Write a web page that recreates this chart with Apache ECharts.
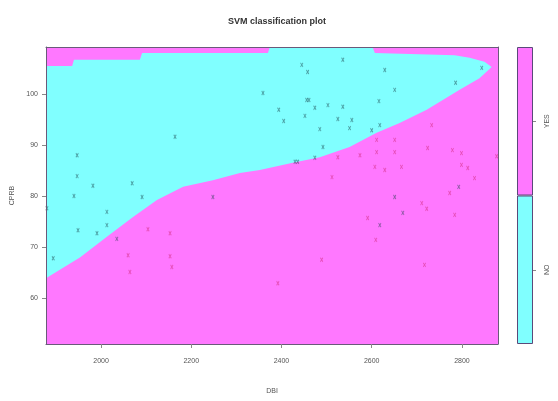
<!DOCTYPE html>
<html><head><meta charset="utf-8">
<script src="https://cdn.jsdelivr.net/npm/echarts@6/dist/echarts.min.js"></script>
<style>html,body{margin:0;padding:0;background:#fff}#c{width:558px;height:401px}</style>
</head><body><div id="c"></div>
<script>
// ---- data ----
const title = 'SVM classification plot';
const xName = 'DBI';
const yName = 'CPRB';
const xTicks = [2000, 2200, 2400, 2600, 2800];
const yTicks = [60, 70, 80, 90, 100];
const xRange = [1878, 2880];
const yRange = [51, 109.2];
const classNames = ['NO', 'YES'];
// outline of the "NO" (cyan) decision region, x values and y values
const regionX = [1878,1936,1940,2086,2091,2370,2374,2602,2607,2784,2817,2850,2866,2839,2795,2722,2662,2611,2551,2485,2425,2352,2308,2248,2182,2124,2071,2013,1954,1878];
const regionY = [105.5,105.5,106.7,106.7,108.0,108.0,109.2,109.2,108.0,107.6,107.1,106.3,105.3,103.1,100.8,96.9,94.3,92.4,89.6,87.6,86.5,85.1,84.5,83.1,81.8,79.2,75.9,72.0,68.0,63.9];
// observations of class NO (black)
const noX = [2359,2394,2164,1947,1947,1982,2069,1940,2091,1880,2013,2013,1949,1991,2035,1894,2445,2458,2536,2629,2651,2844,2786,2456,2461,2474,2503,2536,2616,2405,2452,2525,2556,2551,2485,2600,2618,2492,2430,2436,2474,2651,2669,2618,2793,2248];
const noY = [100.2,96.9,91.6,88.0,83.9,82.0,82.5,80.0,79.8,77.6,76.9,74.3,73.3,72.7,71.6,67.8,105.7,104.3,106.7,104.7,100.8,105.1,102.2,98.8,98.8,97.3,97.8,97.5,98.6,94.7,95.7,95.1,94.9,93.3,93.1,92.9,93.9,89.6,86.7,86.7,87.5,79.8,76.7,74.3,81.8,79.8];
// observations of class YES (red)
const yesX = [2525,2574,2611,2651,2611,2651,2733,2724,2779,2799,2607,2629,2666,2799,2813,2828,2773,2512,2104,2153,2060,2153,2157,2064,2392,2711,2722,2784,2591,2609,2489,2717,2877];
const yesY = [87.6,88.0,91.0,91.0,88.6,88.6,93.9,89.4,89.0,88.4,85.7,85.1,85.7,86.1,85.5,83.5,80.6,83.7,73.5,72.7,68.4,68.2,66.1,65.1,62.9,78.6,77.5,76.3,75.7,71.4,67.5,66.5,87.8];

const CYAN = '#80FFFF', MAGENTA = '#FF78FF';
const textCol = '#555';
const crossPath = 'path://M0,0L4,6M4,0L0,6';

const chart = echarts.init(document.getElementById('c'), null, {renderer: 'canvas'});
const zip = (a, b) => a.map((v, i) => [v, b[i]]);
const plain = v => String(v);

chart.setOption({
  animation: false,
  backgroundColor: '#fff',
  title: {text: title, left: 272, top: 12, textAlign: 'center',
    textStyle: {fontSize: 9, fontWeight: 'bold', color: '#333', fontFamily: 'Liberation Sans'}},
  grid: [
    {left: 46, top: 47, width: 452, height: 297, show: true, backgroundColor: MAGENTA, borderWidth: 0},
    {left: 517, top: 47, width: 16, height: 297, show: false}
  ],
  xAxis: [
    {gridIndex: 0, type: 'value', min: xRange[0], max: xRange[1], z: 5,
      name: xName, nameLocation: 'middle', nameGap: 44,
      nameTextStyle: {fontSize: 7, color: textCol, fontFamily: 'Liberation Sans'},
      splitLine: {show: false},
      axisLine: {show: true, lineStyle: {color: '#6a5a7a', width: 1}},
      axisTick: {show: true, length: 4, customValues: xTicks, lineStyle: {color: '#888'}},
      axisLabel: {margin: 14, fontSize: 7, color: textCol, fontFamily: 'Liberation Sans', customValues: xTicks, formatter: plain}},
    {gridIndex: 0, type: 'value', position: 'top', min: xRange[0], max: xRange[1], z: 5,
      splitLine: {show: false}, axisTick: {show: false}, axisLabel: {show: false},
      axisLine: {show: true, lineStyle: {color: '#6a5a7a', width: 1}}},
    {gridIndex: 1, type: 'category', data: ['k'], show: false}
  ],
  yAxis: [
    {gridIndex: 0, type: 'value', min: yRange[0], max: yRange[1], z: 5,
      name: yName, nameLocation: 'middle', nameGap: 28, nameRotate: 90,
      nameTextStyle: {fontSize: 7, color: textCol, fontFamily: 'Liberation Sans'},
      splitLine: {show: false},
      axisLine: {show: true, lineStyle: {color: '#6a5a7a', width: 1}},
      axisTick: {show: true, length: 4, customValues: yTicks, lineStyle: {color: '#888'}},
      axisLabel: {margin: 8, fontSize: 7, color: textCol, fontFamily: 'Liberation Sans', customValues: yTicks, formatter: plain}},
    {gridIndex: 0, type: 'value', position: 'right', min: yRange[0], max: yRange[1], z: 5,
      splitLine: {show: false}, axisTick: {show: false}, axisLabel: {show: false},
      axisLine: {show: true, lineStyle: {color: '#6a5a7a', width: 1}}},
    {gridIndex: 1, type: 'value', min: 0, max: classNames.length, position: 'right',
      splitLine: {show: false}, axisLine: {show: false},
      axisTick: {show: true, length: 3, customValues: [0.5, 1.5], lineStyle: {color: '#888'}},
      axisLabel: {margin: 11, fontSize: 7, color: textCol, rotate: 90, fontFamily: 'Liberation Sans',
        customValues: [0.5, 1.5], formatter: v => classNames[Math.floor(v)]}}
  ],
  series: [
    {type: 'custom', xAxisIndex: 0, yAxisIndex: 0, clip: true, z: 1, silent: true,
      data: [0],
      renderItem: (params, api) => {
        const pts = regionX.map((x, i) => api.coord([x, regionY[i]]));
        return {type: 'polygon', shape: {points: pts}, style: {fill: CYAN, stroke: null}};
      }},
    {type: 'scatter', xAxisIndex: 0, yAxisIndex: 0, z: 3, symbol: crossPath, symbolSize: [2.5, 4],
      data: zip(noX, noY),
      itemStyle: {color: 'transparent', borderColor: 'rgba(20,60,70,0.6)', borderWidth: 1}},
    {type: 'scatter', xAxisIndex: 0, yAxisIndex: 0, z: 3, symbol: crossPath, symbolSize: [2.5, 4],
      data: zip(yesX, yesY),
      itemStyle: {color: 'transparent', borderColor: 'rgba(200,30,100,0.55)', borderWidth: 1}},
    {type: 'bar', xAxisIndex: 2, yAxisIndex: 2, stack: 'k', barWidth: '100%', data: [1],
      itemStyle: {color: CYAN, borderColor: '#5a4a7a', borderWidth: 1}},
    {type: 'bar', xAxisIndex: 2, yAxisIndex: 2, stack: 'k', barWidth: '100%', data: [1],
      itemStyle: {color: MAGENTA, borderColor: '#5a4a7a', borderWidth: 1}}
  ]
});
</script>
</body></html>
